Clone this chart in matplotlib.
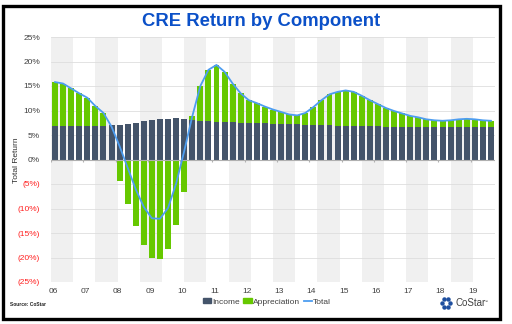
import numpy as np
import matplotlib.pyplot as plt
from matplotlib.patches import Patch, Rectangle
from matplotlib.lines import Line2D

plt.rcParams['font.family'] = ['Liberation Sans', 'DejaVu Sans']

# quarterly, 2006 Q1 .. 2019 Q3 (annualized %)
years = ['06', '07', '08', '09', '10', '11', '12', '13', '14', '15', '16', '17', '18', '19']
income = [6.9, 6.9, 6.9, 6.9,
          6.9, 6.9, 6.9, 7.0,
          7.1, 7.3, 7.5, 7.8,
          8.0, 8.2, 8.3, 8.4,
          8.3, 8.0, 7.9, 7.8,
          7.7, 7.6, 7.6, 7.5,
          7.5, 7.4, 7.4, 7.3,
          7.3, 7.2, 7.2, 7.1,
          7.1, 7.0, 7.0, 6.9,
          6.9, 6.9, 6.8, 6.8,
          6.8, 6.7, 6.7, 6.7,
          6.7, 6.7, 6.6, 6.6,
          6.6, 6.6, 6.6, 6.6,
          6.6, 6.6, 6.6]
appreciation = [8.9, 8.6, 7.6, 6.6,
                5.7, 4.0, 2.6, -0.3,
                -4.4, -9.0, -13.6, -17.5,
                -20.0, -20.3, -18.2, -13.3,
                -6.6, 0.8, 7.1, 10.5,
                11.6, 10.3, 7.9, 6.0,
                4.6, 4.1, 3.4, 2.9,
                2.4, 2.0, 1.8, 2.4,
                3.6, 5.1, 6.3, 6.9,
                7.2, 6.9, 6.2, 5.3,
                4.5, 3.8, 3.2, 2.7,
                2.2, 1.9, 1.6, 1.4,
                1.3, 1.4, 1.6, 1.7,
                1.6, 1.4, 1.3]

income = np.array(income)
appreciation = np.array(appreciation)
total = income + appreciation
x = np.arange(len(income))

c_inc = '#44546a'
c_app = '#66c800'
c_tot = '#4d9df0'

fig = plt.figure(figsize=(5.12, 3.24), dpi=100)
ax = fig.add_axes([51 / 512, 42 / 324, 444 / 512, 245 / 324])

# alternating background bands
n_bands = 20
bw = len(x) / n_bands
for i in range(0, n_bands, 2):
    ax.axvspan(-0.5 + i * bw, -0.5 + (i + 1) * bw, color='#f0f0f0', lw=0, zorder=0)

pos = np.where(appreciation > 0, appreciation, 0)
neg = np.where(appreciation < 0, appreciation, 0)
ax.bar(x, income, width=0.74, color=c_inc, zorder=2)
ax.bar(x, pos, width=0.74, bottom=income, color=c_app, zorder=2)
ax.bar(x, neg, width=0.74, color=c_app, zorder=2)
ax.plot(x, total, color=c_tot, lw=1.3, zorder=3)

ax.axhline(0, color='#b0b0b0', lw=0.8, zorder=2.5)
ax.vlines(np.arange(0, len(x) + 1, 4) - 0.5, -0.6, 0, color='#b0b0b0', lw=0.8, zorder=2.5)

ax.set_xlim(-0.5, len(x) - 0.5)
ax.set_ylim(-25, 25)
yt = list(range(-25, 30, 5))
ax.set_yticks(yt)
ax.set_yticklabels([f'{v}%' if v >= 0 else f'({-v}%)' for v in yt])
for lab, v in zip(ax.get_yticklabels(), yt):
    lab.set_color('#ff2020' if v < 0 else '#404040')
ax.tick_params(axis='y', length=0, labelsize=6, pad=8)
ax.yaxis.grid(True, color='#dedede', lw=0.6)
ax.set_axisbelow(True)

ax.set_xticks(np.arange(len(years)) * 4 - 0.25)
ax.set_xticklabels(years)
ax.tick_params(axis='x', length=0, labelsize=6, pad=4, labelcolor='#404040')
for s in ax.spines.values():
    s.set_visible(False)

fig.text(261 / 512, 0.935, 'CRE Return by Component', ha='center', va='center',
         fontsize=13.3, fontweight='bold', color='#0b50c8')
fig.text(16 / 512, 0.505, 'Total Return', rotation=90, ha='center', va='center',
         fontsize=6, color='#303030')

handles = [Patch(color=c_inc), Patch(color=c_app), Line2D([], [], color=c_tot, lw=1.3)]
fig.legend(handles, ['Income', 'Appreciation', 'Total'], loc='center',
           bbox_to_anchor=(267 / 512, 22 / 324), ncol=3, frameon=False,
           fontsize=6, handlelength=1.0, handleheight=0.5, handletextpad=0.15,
           columnspacing=0.4, labelcolor='#404040')

fig.text(10 / 512, 20 / 324, 'Source: CoStar', fontsize=3.5, fontweight='bold',
         ha='left', va='center', color='#202020')

# CoStar logo
cx, cy = 446 / 512, 21 / 324
ang = np.linspace(0, 2 * np.pi, 7)[:-1]
fig.add_artist(Line2D(cx + 0.0085 * np.cos(ang), cy + 0.0135 * np.sin(ang), ls='none',
                      marker='o', ms=2.2, color='#1f4f9f'))
fig.text(455 / 512, cy, 'CoStar', fontsize=7, ha='left', va='center', color='#404040')
fig.text(484 / 512, cy + 0.004, '™', fontsize=3, ha='left', va='center', color='#404040')

# frame
fig.add_artist(Rectangle((2.5 / 512, 5.5 / 324), 497 / 512, 313 / 324,
                         transform=fig.transFigure, fill=False, ec='black', lw=2.4))

fig.savefig('out.png', dpi=100)
